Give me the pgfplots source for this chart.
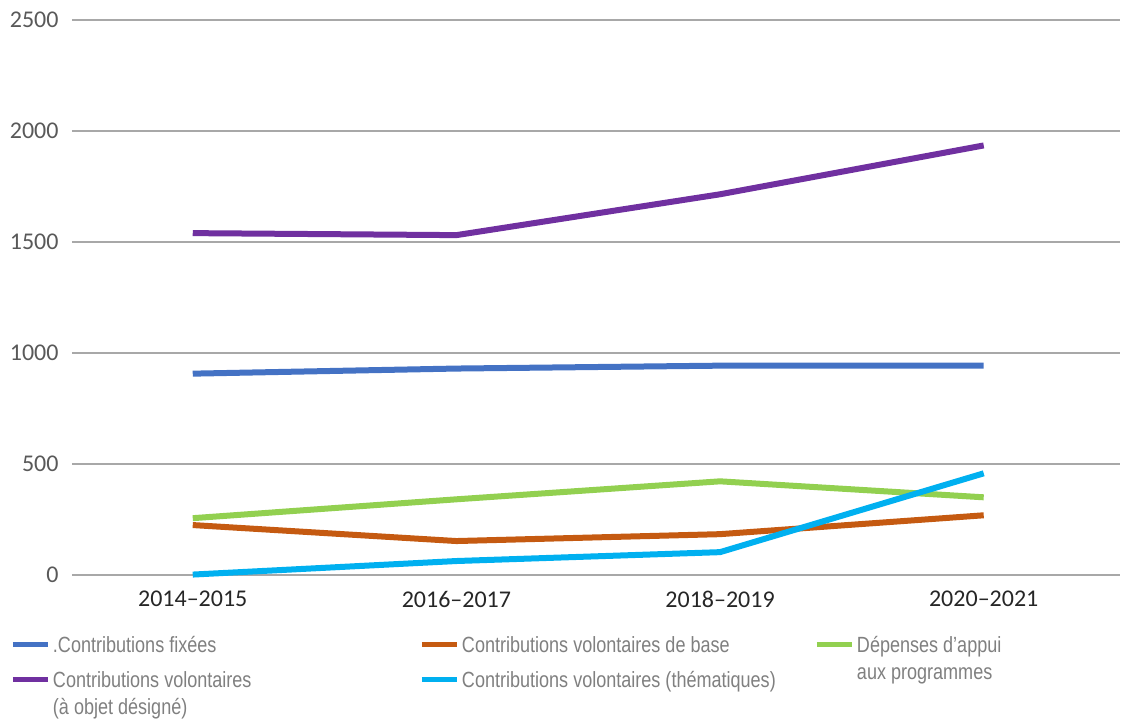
\documentclass[border=0pt]{standalone}
\usepackage{pgfplots}
\pgfplotsset{compat=1.18}
\usepackage{fontspec}
\setmainfont{Carlito}
\newfontfamily\legfont[FakeStretch=0.82]{Liberation Sans}
\definecolor{cfix}{HTML}{4472C4}
\definecolor{cbase}{HTML}{C55A11}
\definecolor{capp}{HTML}{92D050}
\definecolor{cdes}{HTML}{7030A0}
\definecolor{cthe}{HTML}{00B0F0}
\definecolor{gridc}{HTML}{A8A8A8}
\definecolor{ylab}{HTML}{595959}
\definecolor{xlab}{HTML}{262626}
\definecolor{legc}{HTML}{808080}
\begin{document}
\begin{tikzpicture}
\useasboundingbox (-36pt,-72pt) rectangle (525pt,287.5pt);
\begin{axis}[
  scale only axis, width=524pt, height=277.5pt,
  xmin=-0.458, xmax=3.517, ymin=0, ymax=2500,
  xtick={0,1,2,3},
  xticklabels={2014--2015,2016--2017,2018--2019,2020--2021},
  ytick={0,500,1000,1500,2000,2500},
  ymajorgrids, major grid style={gridc, line width=1pt},
  axis line style={draw=none},
  major tick length=0pt,
  /pgf/number format/assume math mode=true,
  /pgf/number format/1000 sep={},
  tick label style={font=\fontsize{12}{14}\selectfont},
  yticklabel style={text=ylab, xshift=-3.2pt},
  xticklabel style={text=xlab, yshift=-4.5pt},
  clip=false,
  every axis plot/.append style={line width=3pt, line join=round},
  legend columns=3,
  legend image code/.code={\draw[#1, line width=2.5pt] (0pt,4pt) -- (17.5pt,4pt);},
  legend style={at={(-0.0587,-0.1100)}, anchor=north west, draw=none,
    inner sep=0pt, outer sep=0pt, column sep=0pt, row sep=7pt,
    font=\legfont\fontsize{11}{13.5}\selectfont, text=legc,
    nodes={inner sep=0pt, text height=8pt, text depth=2.5pt, anchor=base west}},
]
\addplot[cfix] coordinates {(0,907) (1,930) (2,943) (3,943)};
\addlegendentry{\makebox[184.5pt][l]{\hspace{1.25pt}.Contributions fixées}}
\addplot[cbase] coordinates {(0,225) (1,153) (2,184) (3,269)};
\addlegendentry{\makebox[177.5pt][l]{\hspace{1.25pt}Contributions volontaires de base}}
\addplot[capp] coordinates {(0,256) (1,341) (2,422) (3,350)};
\addlegendentry{\hspace{1.25pt}\parbox[t]{150pt}{\baselineskip=13.5pt Dépenses d’appui\\aux programmes}}
\addplot[cdes] coordinates {(0,1540) (1,1531) (2,1715) (3,1935)};
\addlegendentry{\hspace{1.25pt}\parbox[t]{183pt}{\baselineskip=13.5pt Contributions volontaires\\(à objet désigné)}}
\addplot[cthe] coordinates {(0,2) (1,63) (2,103) (3,458)};
\addlegendentry{\hspace{1.25pt}Contributions volontaires (thématiques)}
\end{axis}
\end{tikzpicture}
\end{document}
